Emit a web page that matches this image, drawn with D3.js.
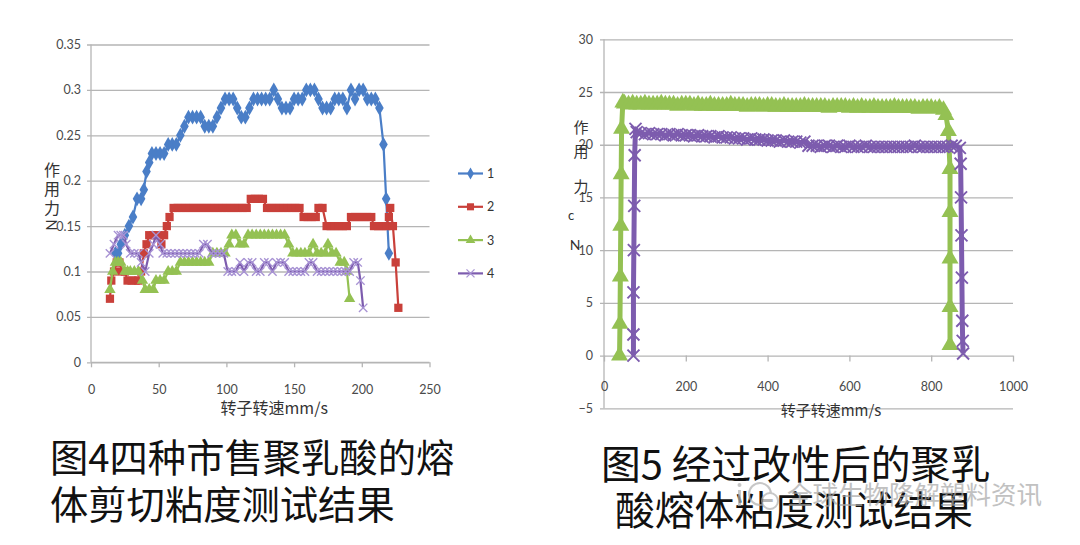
<!DOCTYPE html>
<html><head><meta charset="utf-8">
<script src="https://cdn.jsdelivr.net/npm/d3@7"></script>
<style>
html,body{margin:0;padding:0;background:#fff;}
svg{display:block;}
</style></head>
<body>
<svg id="c" width="1080" height="545"></svg>
<script>
// ---------- Figure 4 data (x: rotor speed mm/s, y: force N) ----------
const fig4XTicks = [0, 50, 100, 150, 200, 250];
const fig4YTicks = [0, 0.05, 0.1, 0.15, 0.2, 0.25, 0.3, 0.35];
const fig4Names = ["1", "2", "3", "4"];
const series1 = [[18,0.12],[20,0.12],[22,0.13],[25,0.14],[28,0.15],[31,0.16],[34,0.18],[37,0.18],[39,0.19],[41,0.21],[43,0.22],[45,0.23],[48,0.23],[51,0.23],[54,0.23],[57,0.24],[60,0.24],[63,0.24],[66,0.25],[69,0.26],[72,0.27],[75,0.27],[78,0.27],[81,0.27],[84,0.26],[87,0.26],[90,0.26],[93,0.27],[96,0.28],[99,0.29],[102,0.29],[105,0.29],[108,0.28],[111,0.27],[114,0.27],[117,0.28],[120,0.29],[123,0.29],[126,0.29],[129,0.29],[132,0.29],[135,0.30],[138,0.29],[141,0.28],[144,0.28],[147,0.28],[150,0.29],[153,0.29],[156,0.29],[159,0.30],[162,0.30],[165,0.30],[168,0.29],[171,0.28],[174,0.28],[177,0.28],[180,0.29],[183,0.29],[186,0.29],[189,0.28],[192,0.30],[195,0.29],[198,0.30],[201,0.30],[204,0.29],[207,0.29],[210,0.29],[213,0.28],[216,0.24],[218,0.18],[220,0.12]];
const series2 = [[14,0.07],[15,0.09],[17,0.10],[19,0.11],[21,0.11],[23,0.10],[25,0.10],[27,0.09],[30,0.09],[33,0.09],[35,0.09],[37,0.10],[39,0.12],[41,0.13],[43,0.14],[46,0.14],[49,0.14],[52,0.13],[54,0.14],[56,0.15],[58,0.16],[61,0.17],[64,0.17],[67,0.17],[70,0.17],[73,0.17],[76,0.17],[79,0.17],[82,0.17],[85,0.17],[88,0.17],[91,0.17],[94,0.17],[97,0.17],[100,0.17],[103,0.17],[106,0.17],[109,0.17],[112,0.17],[115,0.17],[118,0.18],[121,0.18],[124,0.18],[127,0.18],[130,0.17],[133,0.17],[136,0.17],[139,0.17],[142,0.17],[145,0.17],[148,0.17],[151,0.17],[154,0.17],[157,0.16],[160,0.16],[163,0.16],[166,0.16],[168,0.17],[171,0.17],[174,0.15],[177,0.15],[180,0.15],[183,0.15],[186,0.15],[189,0.15],[192,0.16],[195,0.16],[198,0.16],[201,0.16],[204,0.16],[207,0.16],[209,0.15],[212,0.15],[215,0.15],[218,0.15],[220,0.16],[221,0.17],[223,0.15],[225,0.11],[227,0.06]];
const series3 = [[14,0.08],[16,0.10],[18,0.11],[20,0.11],[22,0.11],[25,0.10],[27,0.10],[29,0.10],[32,0.10],[35,0.10],[38,0.09],[40,0.08],[43,0.08],[46,0.08],[48,0.09],[51,0.09],[54,0.09],[57,0.10],[60,0.10],[63,0.10],[66,0.11],[69,0.11],[72,0.11],[75,0.11],[78,0.11],[81,0.11],[84,0.11],[87,0.11],[90,0.12],[93,0.12],[96,0.12],[99,0.12],[102,0.13],[104,0.14],[107,0.14],[110,0.13],[113,0.13],[116,0.14],[119,0.14],[122,0.14],[125,0.14],[128,0.14],[131,0.14],[134,0.14],[137,0.14],[140,0.14],[143,0.14],[146,0.13],[149,0.12],[152,0.12],[155,0.12],[158,0.12],[161,0.12],[164,0.13],[167,0.12],[170,0.12],[173,0.12],[175,0.13],[178,0.12],[181,0.12],[184,0.11],[187,0.11],[189,0.10],[191,0.07]];
const series4 = [[14,0.12],[17,0.13],[20,0.14],[22,0.14],[24,0.14],[26,0.13],[29,0.12],[32,0.12],[35,0.12],[37,0.11],[40,0.10],[43,0.12],[46,0.13],[48,0.14],[51,0.13],[53,0.12],[56,0.12],[59,0.12],[62,0.12],[65,0.12],[68,0.12],[71,0.12],[74,0.12],[77,0.12],[80,0.12],[83,0.13],[86,0.13],[89,0.12],[92,0.12],[95,0.12],[98,0.12],[101,0.10],[104,0.10],[107,0.10],[110,0.11],[113,0.10],[116,0.11],[119,0.11],[122,0.10],[125,0.10],[128,0.11],[131,0.11],[134,0.10],[137,0.11],[140,0.11],[143,0.11],[146,0.10],[149,0.10],[152,0.10],[155,0.10],[158,0.10],[161,0.11],[164,0.11],[167,0.10],[170,0.10],[173,0.10],[176,0.10],[179,0.10],[182,0.10],[185,0.10],[188,0.10],[191,0.10],[194,0.11],[197,0.11],[199,0.09],[201,0.06]];

// ---------- Figure 5 data ----------
const fig5XTicks = [0, 200, 400, 600, 800, 1000];
const fig5YTicks = [-5, 0, 5, 10, 15, 20, 25, 30];
const greenRise = [[38,0],[39,3],[40,7.5],[41,12.3],[42,17.2],[43,21.5],[46,24.0]];
const greenPlateauX = d3.range(50, 831, 10);
const greenPlateauY = [23.9,23.8,23.9,23.8,23.8,23.9,23.8,23.8,23.8,23.9,23.8,23.8,23.8,23.7,23.8,23.8,
  23.8,23.7,23.8,23.7,23.7,23.8,23.7,23.7,23.7,23.7,23.8,23.7,23.7,23.7,23.6,23.7,23.7,23.7,23.6,23.7,
  23.7,23.6,23.6,23.7,23.6,23.6,23.6,23.6,23.7,23.6,23.6,23.6,23.6,23.6,23.5,23.6,23.6,23.6,23.6,23.5,
  23.6,23.5,23.6,23.5,23.5,23.6,23.5,23.5,23.5,23.5,23.6,23.5,23.5,23.5,23.5,23.5,23.4,23.5,23.5,23.5,23.4,23.5,23.3];
const greenFall = [[836,22.8],[842,21.3],[846,17.7],[846,13.6],[846,9.2],[846,4.6],[846,1.0]];
const purpleRise = [[72,0],[72,2],[72,6],[73,10],[74,14.2],[75,19],[77,21.5],[80,21.2]];
const purplePlateauX = d3.range(90, 861, 10);
const purplePlateauY = [21.1,21.0,21.1,21.0,21.0,21.0,20.9,21.0,20.9,21.0,20.9,20.9,
  20.9,20.8,20.9,20.8,20.8,20.8,20.7,20.8,20.7,20.7,
  20.7,20.6,20.6,20.6,20.5,20.6,20.5,20.5,20.5,20.4,
  20.4,20.4,20.3,20.4,20.3,20.3,20.3,20.2,20.3,
  19.9,19.9,19.9,19.8,19.9,19.9,19.8,19.9,19.8,19.8,19.9,
  19.8,19.8,19.8,19.9,19.8,19.8,19.8,19.8,19.8,19.8,
  19.8,19.8,19.8,19.8,19.8,19.9,19.8,19.8,19.8,19.8,
  19.8,19.8,19.8,19.8,19.9,19.9];
const purpleFall = [[870,19.7],[872,18.2],[873,15.0],[874,11.4],[875,7.4],[876,3.3],[877,1.4],[878,0.2]];

// captions
const caption4 = ["图4四种市售聚乳酸的熔", "体剪切粘度测试结果"];
const caption5 = ["图5 经过改性后的聚乳", "酸熔体粘度测试结果"];
const watermark = "全球生物降解塑料资讯";
const xTitle = "转子转速mm/s";

// ---------- drawing ----------
const svg = d3.select("#c");
svg.append("rect").attr("width",1080).attr("height",545).attr("fill","#fff");

const COL = {blue:"#4a7ec7", red:"#c9403a", green:"#94c153", purple:"#7d5cae", purpleM:"#a893d4"};
const gridCol = "#b5b5b5";
const tickFont = "Lato, 'Noto Sans', sans-serif";
const cjk = "'Noto Sans CJK SC', sans-serif";

function styleAxis(g){
  g.select(".domain").remove();
  g.selectAll("text").attr("font-family", tickFont).attr("font-size", 12.5).attr("fill","#4a4a4a");
}

// ===== Figure 4 =====
const x4 = d3.scaleLinear().domain([0,250]).range([91,429.5]);
const y4 = d3.scaleLinear().domain([0,0.35]).range([362.3,44.5]);

const g4 = svg.append("g");
const ya4 = g4.append("g").attr("transform","translate(91,0)")
  .call(d3.axisLeft(y4).tickValues(fig4YTicks).tickSizeInner(-(429.5-91)).tickSizeOuter(0).tickPadding(10)
    .tickFormat(d => d===0 ? "0" : String(+d.toFixed(2))));
styleAxis(ya4);
ya4.selectAll("line").attr("stroke",gridCol).attr("stroke-width",1.3).attr("x1",-4);
g4.append("line").attr("x1",91).attr("x2",91).attr("y1",y4(0.35)).attr("y2",y4(0)).attr("stroke",gridCol).attr("stroke-width",1.3);
const xa4 = g4.append("g").attr("transform",`translate(0,${y4(0)})`)
  .call(d3.axisBottom(x4).tickValues(fig4XTicks).tickSize(5).tickPadding(18).tickSizeOuter(0));
styleAxis(xa4);
xa4.selectAll("line").attr("stroke",gridCol).attr("stroke-width",1.3);
g4.append("line").attr("x1",91).attr("x2",429.5).attr("y1",y4(0)).attr("y2",y4(0)).attr("stroke",gridCol).attr("stroke-width",1.3);

g4.append("text").attr("x",x4(125)+14).attr("y",414).attr("text-anchor","middle")
  .attr("font-family",cjk).attr("font-size",16).attr("fill","#333").text(xTitle);
["作","用","力"].forEach((ch,i)=>{
  g4.append("text").attr("x",52).attr("y",176+i*19).attr("text-anchor","middle")
    .attr("font-family",cjk).attr("font-size",16).attr("fill","#333").text(ch);
});
g4.append("text").attr("transform","translate(46,225) rotate(90)").attr("text-anchor","middle")
  .attr("font-family",tickFont).attr("font-size",15).attr("fill","#333").text("N");

const xPath = s => `M${-s},${-s}L${s},${s}M${-s},${s}L${s},${-s}`;

function drawSeries(g, data, xs, ys, color, marker, lw, msize, mcol, mw){
  const ln = d3.line().x(d=>xs(d[0])).y(d=>ys(d[1]));
  g.append("path").attr("d",ln(data)).attr("fill","none").attr("stroke",color).attr("stroke-width",lw).attr("stroke-linejoin","round");
  const m = g.append("g");
  data.forEach(d=>{
    const t = `translate(${xs(d[0])},${ys(d[1])})`;
    if(marker==="diamond") m.append("path").attr("transform",t).attr("d",d3.symbol(d3.symbolDiamond,msize)()).attr("fill",color);
    else if(marker==="square") m.append("path").attr("transform",t).attr("d",d3.symbol(d3.symbolSquare,msize)()).attr("fill",color);
    else if(marker==="triangle") m.append("path").attr("transform",t).attr("d",d3.symbol(d3.symbolTriangle,msize)()).attr("fill",color);
    else if(marker==="x") m.append("path").attr("transform",t).attr("d",xPath(msize)).attr("stroke",mcol).attr("stroke-width",mw||1.4).attr("fill","none");
  });
}
const s4 = g4.append("g");
drawSeries(s4, series1, x4, y4, COL.blue, "diamond", 2.2, 64);
drawSeries(s4, series2, x4, y4, COL.red, "square", 2.2, 68);
drawSeries(s4, series3, x4, y4, COL.green, "triangle", 2.2, 56);
drawSeries(s4, series4, x4, y4, COL.purple, "x", 2.2, 4.2, COL.purpleM);

// legend
const legCols = [COL.blue, COL.red, COL.green, COL.purple];
const legMarks = ["diamond","square","triangle","x"];
const lg = svg.append("g");
fig4Names.forEach((n,i)=>{
  const y = 173.5 + i*33.3;
  lg.append("line").attr("x1",458).attr("x2",483).attr("y1",y).attr("y2",y).attr("stroke",legCols[i]).attr("stroke-width",2.2);
  const t = `translate(470.5,${y})`;
  if(legMarks[i]==="diamond") lg.append("path").attr("transform",t).attr("d",d3.symbol(d3.symbolDiamond,40)()).attr("fill",legCols[i]);
  if(legMarks[i]==="square") lg.append("path").attr("transform",t).attr("d",d3.symbol(d3.symbolSquare,50)()).attr("fill",legCols[i]);
  if(legMarks[i]==="triangle") lg.append("path").attr("transform",t).attr("d",d3.symbol(d3.symbolTriangle,40)()).attr("fill",legCols[i]);
  if(legMarks[i]==="x") lg.append("path").attr("transform",t).attr("d",xPath(4)).attr("stroke",COL.purpleM).attr("stroke-width",1.3);
  lg.append("text").attr("x",487).attr("y",y+4.5).attr("font-family",tickFont).attr("font-size",12.5).attr("fill","#333").text(n);
});

// ===== Figure 5 =====
const x5 = d3.scaleLinear().domain([0,1000]).range([604,1013]);
const y5 = d3.scaleLinear().domain([-5,30]).range([408.3,39.3]);
const g5 = svg.append("g");
const ya5 = g5.append("g").attr("transform","translate(604,0)")
  .call(d3.axisLeft(y5).tickValues(fig5YTicks).tickSizeInner(-(1013-604)).tickSizeOuter(0).tickPadding(11));
styleAxis(ya5);
ya5.selectAll("line").attr("stroke",gridCol).attr("stroke-width",1.3).attr("x1",-4);
g5.append("line").attr("x1",604).attr("x2",604).attr("y1",y5(30)).attr("y2",y5(-5)).attr("stroke",gridCol).attr("stroke-width",1.3);
const xa5 = g5.append("g").attr("transform",`translate(0,${y5(0)})`)
  .call(d3.axisBottom(x5).tickValues(fig5XTicks).tickSize(6).tickPadding(21).tickSizeOuter(0).tickFormat(d3.format("d")));
styleAxis(xa5);
xa5.selectAll("line").attr("stroke",gridCol).attr("stroke-width",1.3);

g5.append("text").attr("x",831).attr("y",416).attr("text-anchor","middle")
  .attr("font-family",cjk).attr("font-size",15).attr("fill","#333").text(xTitle);
const ytl = [["作",133],["用",157],["力",192]];
ytl.forEach(([ch,y])=>{
  g5.append("text").attr("x",581).attr("y",y).attr("text-anchor","middle")
    .attr("font-family",cjk).attr("font-size",15).attr("fill","#333").text(ch);
});
g5.append("text").attr("x",571).attr("y",220).attr("text-anchor","middle")
  .attr("font-family",tickFont).attr("font-size",13).attr("fill","#333").text("c");
g5.append("text").attr("x",575).attr("y",250).attr("text-anchor","middle")
  .attr("font-family",tickFont).attr("font-size",14).attr("fill","#333").text("N");

const greenData = greenRise.concat(greenPlateauX.map((x,i)=>[x,greenPlateauY[i]]), greenFall);
const purpleData = purpleRise.concat(purplePlateauX.map((x,i)=>[x,purplePlateauY[i]]), purpleFall);
const s5 = g5.append("g");
drawSeries(s5, greenData, x5, y5, COL.green, "triangle", 5, 125);
drawSeries(s5, purpleData, x5, y5, COL.purple, "x", 5, 6, COL.purple, 1.9);

// ===== captions =====
const cap = svg.append("g").attr("font-family",cjk).attr("fill","#111").attr("font-weight",400);
cap.append("text").attr("x",50).attr("y",472).attr("font-size",38.3).text(caption4[0]);
cap.append("text").attr("x",50).attr("y",519).attr("font-size",38.3).text(caption4[1]);
cap.append("text").attr("x",601).attr("y",479).attr("font-size",39.8).text(caption5[0]);
cap.append("text").attr("x",615).attr("y",525).attr("font-size",39.8).text(caption5[1]);

// ===== watermark =====
const wm = svg.append("g").attr("opacity",0.7);
wm.append("text").attr("x",787).attr("y",504).attr("font-family",cjk).attr("font-size",25.5).attr("fill","#a8a8a8").text(watermark);
wm.append("circle").attr("cx",760).attr("cy",494).attr("r",11).attr("fill","none").attr("stroke","#b0b0b0").attr("stroke-width",2);
wm.append("circle").attr("cx",770).attr("cy",501).attr("r",8).attr("fill","#fff").attr("stroke","#b0b0b0").attr("stroke-width",2);
wm.append("rect").attr("x",738).attr("y",490).attr("width",3).attr("height",16).attr("fill","#b0b0b0");
wm.append("circle").attr("cx",739.5).attr("cy",485).attr("r",2).attr("fill","#b0b0b0");
</script>
</body></html>
